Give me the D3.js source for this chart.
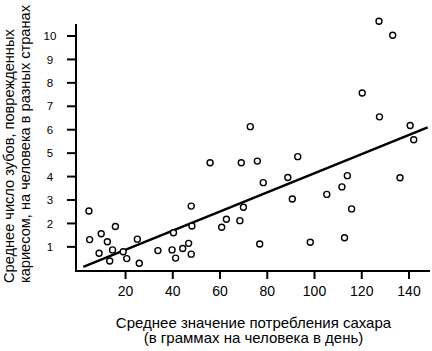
<!DOCTYPE html>
<html>
<head>
<meta charset="utf-8">
<script src="https://cdn.jsdelivr.net/npm/d3@7"></script>
<style>
  html, body { margin: 0; padding: 0; background: #fff; }
  svg { display: block; font-family: "Liberation Sans", Arial, sans-serif; }
</style>
</head>
<body>
<svg id="chart" width="432" height="351"></svg>
<script>
// Sugar consumption (g/person/day)
const sugar = [4.5, 47.8, 4.8, 9.7, 15.7, 12.3, 25.0, 40.3, 48.1, 8.8,
  14.5, 19.0, 13.3, 20.5, 25.8, 33.7, 39.7, 41.2, 44.2, 46.7,
  47.8, 72.8, 55.8, 69.0, 75.8, 92.9, 78.3, 88.7, 90.6, 105.2,
  69.9, 62.7, 68.4, 60.7, 76.8, 98.2, 127.3, 133.1, 120.2, 127.5,
  140.5, 142.0, 113.9, 111.6, 136.2, 115.7, 112.7];
// Mean decayed teeth per person
const teeth = [2.53, 2.74, 1.31, 1.56, 1.87, 1.22, 1.33, 1.60, 1.89, 0.73,
  0.87, 0.79, 0.40, 0.50, 0.30, 0.84, 0.87, 0.52, 0.93, 1.15,
  0.69, 6.13, 4.59, 4.59, 4.66, 4.85, 3.74, 3.96, 3.04, 3.24,
  2.69, 2.18, 2.12, 1.84, 1.12, 1.20, 10.63, 10.03, 7.57, 6.55,
  6.18, 5.57, 4.04, 3.56, 3.95, 2.62, 1.39];
// Fitted trend line endpoints
const trendX = [2.1, 147.9];
const trendY = [0.15, 6.10];

const xTicks = [20, 40, 60, 80, 100, 120, 140];
const yTicks = [1, 2, 3, 4, 5, 6, 7, 8, 9, 10];
const xTitle = ["Среднее значение потребления сахара", "(в граммах на человека в день)"];
const yTitle = ["Среднее число зубов, поврежденных", "кариесом, на человека в разных странах"];

const svg = d3.select("#chart");

const x = d3.scaleLinear().domain([0, 140]).range([78.3, 409]);
const y = d3.scaleLinear().domain([0, 10]).range([270.3, 36]);

const axisY0 = 271, axisX0 = 76;

// X axis
const gx = svg.append("g").attr("transform", `translate(0,${axisY0})`);
gx.append("line").attr("x1", axisX0 - 1).attr("x2", 430).attr("y1", 0).attr("y2", 0)
  .attr("stroke", "#000").attr("stroke-width", 2);
gx.selectAll("line.tick").data(xTicks).join("line").attr("class", "tick")
  .attr("x1", d => x(d)).attr("x2", d => x(d)).attr("y1", 0).attr("y2", 8)
  .attr("stroke", "#000").attr("stroke-width", 2);
gx.selectAll("text").data(xTicks).join("text")
  .attr("x", d => x(d)).attr("y", 24.5)
  .attr("text-anchor", "middle").attr("font-size", 14).attr("fill", "#000")
  .text(d => d);

// Y axis
const gy = svg.append("g").attr("transform", `translate(${axisX0},0)`);
gy.append("line").attr("x1", 0).attr("x2", 0).attr("y1", 24).attr("y2", axisY0 + 1)
  .attr("stroke", "#000").attr("stroke-width", 2);
gy.selectAll("line.tick").data(yTicks).join("line").attr("class", "tick")
  .attr("x1", -9).attr("x2", 0).attr("y1", d => y(d)).attr("y2", d => y(d))
  .attr("stroke", "#000").attr("stroke-width", 2);
gy.selectAll("text").data(yTicks).join("text")
  .attr("x", -26).attr("y", d => y(d)).attr("dy", "0.36em")
  .attr("text-anchor", "middle").attr("font-size", 11.5).attr("fill", "#000")
  .text(d => d);

// Trend line
svg.append("line")
  .attr("x1", x(trendX[0])).attr("y1", y(trendY[0]))
  .attr("x2", x(trendX[1])).attr("y2", y(trendY[1]))
  .attr("stroke", "#000").attr("stroke-width", 2.5);

// Points
svg.append("g").selectAll("circle").data(sugar.map((s, i) => [s, teeth[i]])).join("circle")
  .attr("cx", d => x(d[0])).attr("cy", d => y(d[1])).attr("r", 3)
  .attr("fill", "#fff").attr("stroke", "#000").attr("stroke-width", 1.4);

// X title
svg.append("g").selectAll("text").data(xTitle).join("text")
  .attr("x", 253.5).attr("y", (d, i) => 327.5 + i * 15.5)
  .attr("text-anchor", "middle").attr("font-size", 15).attr("fill", "#000")
  .text(d => d);

// Y title
svg.append("g").selectAll("text").data(yTitle).join("text")
  .attr("transform", (d, i) => `translate(${14 + i * 15.5},283) rotate(-90)`)
  .attr("text-anchor", "start").attr("font-size", 14.6).attr("fill", "#000")
  .text(d => d);
</script>
</body>
</html>
